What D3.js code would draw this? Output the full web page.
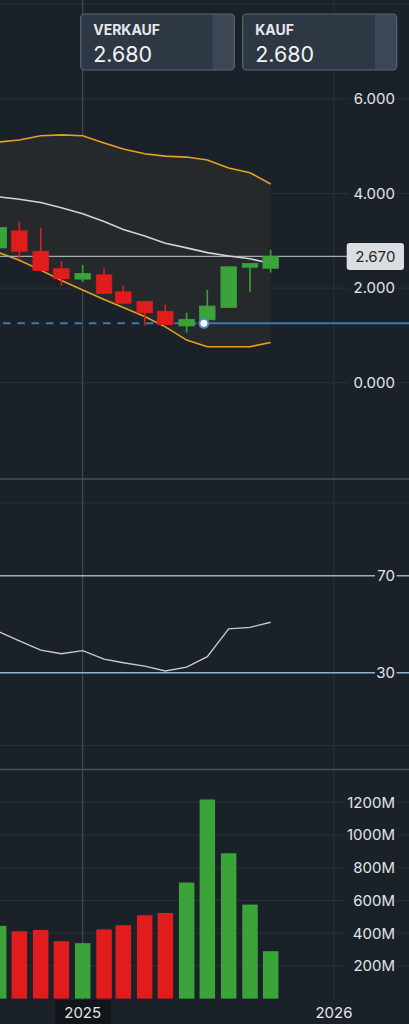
<!DOCTYPE html>
<html>
<head>
<meta charset="utf-8">
<script src="https://cdn.jsdelivr.net/npm/d3@7"></script>
<style>
  html, body { margin: 0; padding: 0; background: #1b2129; }
  svg { display: block; font-family: Inter, Lato, sans-serif; }
</style>
</head>
<body>
<div id="chart"></div>
<script>
// monthly candles
var months = ["2024-09","2024-10","2024-11","2024-12","2025-01","2025-02","2025-03",
              "2025-04","2025-05","2025-06","2025-07","2025-08","2025-09","2025-10"];
var open  = [2.85, 3.21, 2.78, 2.41, 2.19, 2.28, 1.92, 1.72, 1.51, 1.20, 1.33, 1.59, 2.44, 2.42];
var high  = [3.35, 3.40, 3.28, 2.57, 2.49, 2.41, 2.05, 1.73, 1.65, 1.48, 1.96, 2.46, 2.52, 2.81];
var low   = [2.80, 2.63, 2.36, 2.05, 2.13, 1.88, 1.66, 1.21, 1.22, 1.06, 1.33, 1.59, 1.92, 2.33];
var close = [3.28, 2.78, 2.37, 2.20, 2.31, 1.89, 1.68, 1.48, 1.23, 1.34, 1.62, 2.45, 2.52, 2.67];

// bollinger bands
var bbUpper  = [5.09, 5.13, 5.22, 5.24, 5.22, 5.07, 4.94, 4.84, 4.79, 4.77, 4.71, 4.54, 4.44, 4.20];
var bbMiddle = [3.93, 3.88, 3.81, 3.70, 3.57, 3.41, 3.24, 3.10, 2.95, 2.85, 2.75, 2.68, 2.62, 2.52];
var bbLower  = [2.75, 2.59, 2.38, 2.16, 1.96, 1.76, 1.59, 1.40, 1.18, 0.90, 0.76, 0.76, 0.76, 0.85];

// rsi and volume (millions)
var rsi    = [46.9, 43.1, 39.3, 37.8, 39.1, 35.6, 34.1, 32.7, 30.7, 32.3, 36.6, 48.1, 48.7, 50.8];
var volume = [445, 412, 420, 351, 339, 423, 449, 510, 524, 710, 1218, 889, 575, 290];

var priceTicks = [0, 2, 4, 6];
var priceGrid = [0, 2, 4, 6, 8];
var rsiLevels = [70, 30];
var volTicks = [200, 400, 600, 800, 1000, 1200];
var yearTicks = ["2025", "2026"];

var lastPrice = 2.670;
var sellPrice = "2.680", buyPrice = "2.680";
var orderLevel = 1.256, orderDate = "2025-06-26";

var width = 409, height = 1024;
var bg = "#1b2129", up = "#3aa33a", down = "#e01c1c", orange = "#e5a11f";
var txt = "#e2e4e7";

var parse = d3.utcParse("%Y-%m");
var data = months.map(function(m, i) {
  return {date: parse(m), o: open[i], h: high[i], l: low[i], c: close[i],
          up: bbUpper[i], mid: bbMiddle[i], lo: bbLower[i], rsi: rsi[i], vol: volume[i]};
});

var x = d3.scaleUtc()
  .domain([new Date(Date.UTC(2025, 0, 1)), new Date(Date.UTC(2026, 0, 1))])
  .range([82.7, 334]);
var yP = d3.scaleLinear().domain([0, 6]).range([382.7, 98.9]);
var yR = d3.scaleLinear().domain([0, 100]).range([745.4, 503]);
var yV = d3.scaleLinear().domain([0, 1200]).range([998.6, 802.4]);

var svg = d3.select("#chart").append("svg")
  .attr("width", width).attr("height", height);

svg.append("rect").attr("width", width).attr("height", height).attr("fill", bg);

// faint grid
var grid = svg.append("g").attr("stroke", "#283039").attr("stroke-width", 1);
priceGrid.forEach(function(v) {
  grid.append("line").attr("x1", 0).attr("x2", width).attr("y1", yP(v)).attr("y2", yP(v));
});
[0, 100].forEach(function(v) {
  grid.append("line").attr("x1", 0).attr("x2", width).attr("y1", yR(v)).attr("y2", yR(v));
});
volTicks.forEach(function(v) {
  grid.append("line").attr("x1", 0).attr("x2", width).attr("y1", yV(v)).attr("y2", yV(v));
});
grid.append("line")
  .attr("x1", x(new Date(Date.UTC(2026, 0, 1)))).attr("x2", x(new Date(Date.UTC(2026, 0, 1))))
  .attr("y1", 0).attr("y2", 1000);

// pane separators + crosshair
var sep = svg.append("g").attr("stroke", "#4b5058");
[479, 769.5].forEach(function(y) {
  sep.append("line").attr("x1", 0).attr("x2", width).attr("y1", y).attr("y2", y).attr("stroke-width", 1.5);
});
sep.append("line")
  .attr("x1", x(new Date(Date.UTC(2025, 0, 1)))).attr("x2", x(new Date(Date.UTC(2025, 0, 1))))
  .attr("y1", 0).attr("y2", 1000).attr("stroke-width", 1);

// bollinger fill + lines
svg.append("path").datum(data)
  .attr("fill", "#25292c")
  .attr("d", d3.area().x(function(d) { return x(d.date); })
    .y0(function(d) { return yP(d.lo); }).y1(function(d) { return yP(d.up); }));

function bandLine(key, color) {
  svg.append("path").datum(data)
    .attr("fill", "none").attr("stroke", color).attr("stroke-width", 1.6)
    .attr("d", d3.line().x(function(d) { return x(d.date); }).y(function(d) { return yP(d[key]); }));
}
bandLine("up", orange);
bandLine("lo", orange);

// last price line
svg.append("line").attr("x1", 0).attr("x2", 347).attr("y1", yP(lastPrice)).attr("y2", yP(lastPrice))
  .attr("stroke", "#a9abae").attr("stroke-width", 1.3);

bandLine("mid", "#d2d3d5");

// order level line
var ox = x(d3.utcParse("%Y-%m-%d")(orderDate));
svg.append("line").attr("x1", 0).attr("x2", ox).attr("y1", yP(orderLevel)).attr("y2", yP(orderLevel))
  .attr("stroke", "#3b78b5").attr("stroke-width", 2).attr("stroke-dasharray", "7.5,6.8")
  .attr("stroke-dashoffset", -3);
svg.append("line").attr("x1", ox).attr("x2", width).attr("y1", yP(orderLevel)).attr("y2", yP(orderLevel))
  .attr("stroke", "#3b78b5").attr("stroke-width", 2);

// candles
var bw = 15.5;
var candle = svg.append("g").selectAll("g").data(data).join("g")
  .attr("fill", function(d) { return d.c >= d.o ? up : down; })
  .attr("stroke", function(d) { return d.c >= d.o ? up : down; });
candle.append("line")
  .attr("x1", function(d) { return x(d.date); }).attr("x2", function(d) { return x(d.date); })
  .attr("y1", function(d) { return yP(d.h); }).attr("y2", function(d) { return yP(d.l); })
  .attr("stroke-width", 1.6);
candle.append("rect")
  .attr("x", function(d) { return x(d.date) - bw / 2; })
  .attr("width", bw)
  .attr("y", function(d) { return yP(Math.max(d.o, d.c)); })
  .attr("height", function(d) { return Math.max(1, Math.abs(yP(d.o) - yP(d.c))); })
  .attr("stroke-width", 0.8);

// order marker
svg.append("circle").attr("cx", ox).attr("cy", yP(orderLevel)).attr("r", 4.5)
  .attr("fill", "#f4f6f8").attr("stroke", "#4d8ac8").attr("stroke-width", 2);

// price axis labels
var pAxis = svg.append("g").attr("font-size", 15).attr("fill", txt).attr("text-anchor", "end");
priceTicks.forEach(function(v) {
  pAxis.append("rect").attr("x", 349).attr("y", yP(v) - 9).attr("width", 48).attr("height", 18).attr("fill", bg);
  pAxis.append("text").attr("x", 395).attr("y", yP(v) + 5.3).text(d3.format(".3f")(v));
});

// last price tag
svg.append("rect").attr("x", 346.7).attr("y", yP(lastPrice) - 13.5).attr("width", 57.3).attr("height", 27)
  .attr("rx", 3).attr("fill", "#dcdde2");
svg.append("text").attr("x", 375.3).attr("y", yP(lastPrice) + 5.4).attr("text-anchor", "middle")
  .attr("font-size", 15).attr("fill", "#23262b").text(d3.format(".3f")(lastPrice));

// rsi pane
rsiLevels.forEach(function(v) {
  svg.append("line").attr("x1", 0).attr("x2", width).attr("y1", yR(v)).attr("y2", yR(v))
    .attr("stroke", "#8fb1d6").attr("stroke-width", 1.6);
  svg.append("rect").attr("x", 375).attr("y", yR(v) - 8).attr("width", 21.5).attr("height", 16).attr("fill", bg);
  svg.append("text").attr("x", 395).attr("y", yR(v) + 5.4).attr("text-anchor", "end")
    .attr("font-size", 15).attr("fill", txt).text(v);
});
svg.append("path").datum(data)
  .attr("fill", "none").attr("stroke", "#c9cacc").attr("stroke-width", 1.4)
  .attr("d", d3.line().x(function(d) { return x(d.date); }).y(function(d) { return yR(d.rsi); }));

// volume pane
svg.append("g").selectAll("rect").data(data).join("rect")
  .attr("x", function(d) { return x(d.date) - bw / 2; })
  .attr("width", bw)
  .attr("y", function(d) { return yV(d.vol); })
  .attr("height", function(d) { return yV(0) - yV(d.vol); })
  .attr("fill", function(d) { return d.c >= d.o ? up : down; });

var vAxis = svg.append("g").attr("font-size", 15).attr("fill", txt).attr("text-anchor", "end");
volTicks.forEach(function(v) {
  vAxis.append("rect").attr("x", 343).attr("y", yV(v) - 9).attr("width", 54).attr("height", 18).attr("fill", bg);
  vAxis.append("text").attr("x", 395).attr("y", yV(v) + 5.3).text(v + "M");
});

// time axis
svg.append("rect").attr("x", 55).attr("y", 1000).attr("width", 56).attr("height", 24).attr("fill", "#111418");
yearTicks.forEach(function(t) {
  svg.append("text").attr("x", x(new Date(Date.UTC(+t, 0, 1)))).attr("y", 1017.5)
    .attr("text-anchor", "middle").attr("font-size", 15).attr("fill", txt).text(t);
});

// sell / buy buttons
function button(x0, x1, strip, label, price) {
  var g = svg.append("g");
  g.append("rect").attr("x", x0).attr("y", 14).attr("width", x1 - x0).attr("height", 56)
    .attr("rx", 4).attr("fill", "#3c4655");
  g.append("rect").attr("x", x0).attr("y", 14).attr("width", strip - x0).attr("height", 56)
    .attr("rx", 4).attr("fill", "#2e3744");
  g.append("rect").attr("x", strip - 6).attr("y", 14).attr("width", 6).attr("height", 56)
    .attr("fill", "#2e3744");
  g.append("rect").attr("x", x0).attr("y", 14).attr("width", x1 - x0).attr("height", 56)
    .attr("rx", 4).attr("fill", "none").attr("stroke", "#5b6471").attr("stroke-width", 1.2);
  g.append("text").attr("x", x0 + 12.5).attr("y", 34.5).attr("font-size", 14).attr("font-weight", 700)
    .attr("fill", "#e6e8eb").text(label);
  g.append("text").attr("x", x0 + 12.5).attr("y", 62).attr("font-size", 21.5)
    .attr("fill", "#f1f3f5").text(price);
}
button(80.7, 234.3, 212.3, "VERKAUF", sellPrice);
button(242.7, 396.7, 375, "KAUF", buyPrice);
</script>
</body>
</html>
